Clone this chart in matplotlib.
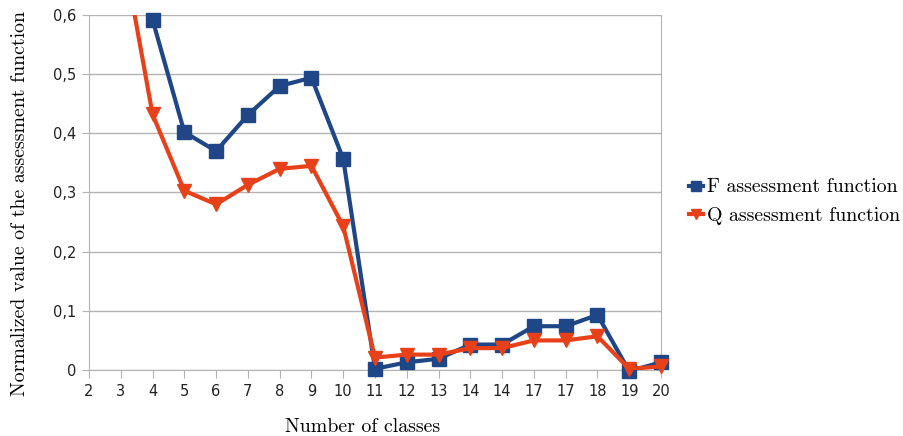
import matplotlib
matplotlib.use('Agg')
import matplotlib.pyplot as plt
from matplotlib.lines import Line2D
import numpy as np

# x categories as they appear in the chart (duplicates kept)
classes = ['2', '3', '4', '5', '6', '7', '8', '9', '10', '11', '12',
           '13', '14', '14', '17', '17', '18', '19', '20']
# first points are above the visible range (clipped at 0,6)
f_values = [1.00, 0.90, 0.592, 0.402, 0.370, 0.431, 0.480, 0.494, 0.357,
            0.002, 0.013, 0.019, 0.043, 0.043, 0.074, 0.074, 0.093, -0.002, 0.013]
q_values = [0.95, 0.73, 0.432, 0.303, 0.280, 0.313, 0.340, 0.345, 0.243,
            0.021, 0.026, 0.026, 0.037, 0.037, 0.050, 0.050, 0.057, 0.002, 0.006]
y_ticks = [0, 0.1, 0.2, 0.3, 0.4, 0.5, 0.6]
y_labels = ['0', '0,1', '0,2', '0,3', '0,4', '0,5', '0,6']

blue = '#1f4787'
red = '#e8411a'
grid = '#b3b3b3'
serif = {'family': 'cmr10', 'size': 14.3}

fig = plt.figure(figsize=(9.04, 4.36), dpi=100)
ax = fig.add_axes([89/904, 66/436, 572/904, 355/436])

x = np.arange(len(classes))
ymax = 0.6
for vals, col, mk, z in [(f_values, blue, 's', 3), (q_values, red, 'v', 4)]:
    v = np.array(vals)
    ax.plot(x, v, color=col, lw=3, zorder=z)  # clipped at plot area
    vis = np.ma.masked_where(v > ymax, v)
    ax.plot(x, vis, color=col, lw=0, marker=mk, ms=10, clip_on=False, zorder=z)

ax.set_xlim(0, len(classes) - 1)
ax.set_ylim(0, ymax)
ax.set_xticks(x)
ax.set_xticklabels(classes, fontsize=10.5, color='#222222')
ax.set_yticks(y_ticks)
ax.set_yticklabels(y_labels, fontsize=10.5, color='#222222')
ax.tick_params(axis='x', direction='out', length=6, color=grid, pad=4)
ax.tick_params(axis='y', direction='out', length=5, color=grid, pad=4)
ax.yaxis.grid(True, color=grid, lw=1)
ax.set_axisbelow(True)
for s in ['left', 'right', 'bottom']:
    ax.spines[s].set_color(grid)
ax.spines['top'].set_visible(False)

ax.set_xlabel('Number of classes', fontdict=serif)
ax.xaxis.set_label_coords(0.479, -0.135)
ax.set_ylabel('Normalized value of the assessment function', fontdict=serif)
ax.yaxis.set_label_coords(-0.105, 0.47)

handles = [Line2D([], [], color=blue, lw=3, marker='s', ms=7),
           Line2D([], [], color=red, lw=3, marker='v', ms=7)]
fig.legend(handles, ['F assessment function', 'Q assessment function'],
           loc='center left', bbox_to_anchor=(689/904, 1 - 202/436), frameon=False,
           prop={'family': 'cmr10', 'size': 14.3}, handlelength=0.7, handletextpad=0.2,
           labelspacing=0.55, borderpad=0, borderaxespad=0)

fig.savefig('out.png', dpi=100)
